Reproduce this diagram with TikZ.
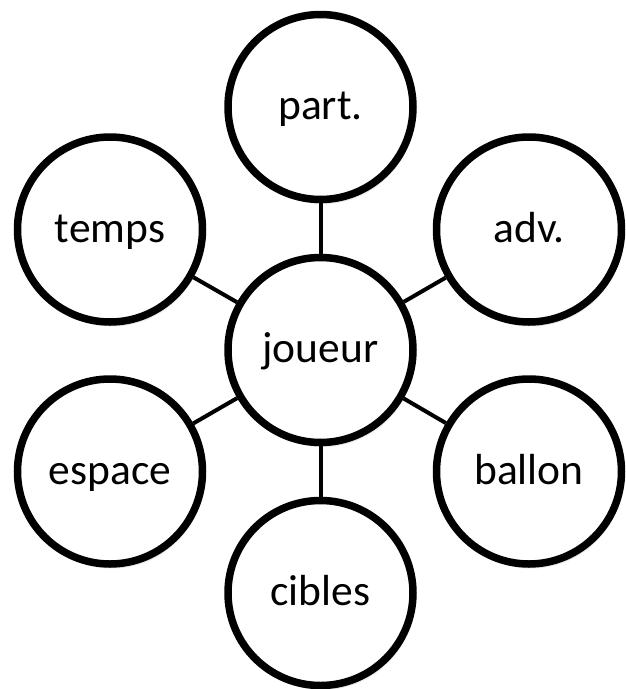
\documentclass[tikz,border=0pt]{standalone}
\usepackage{fontspec}
\setmainfont{Carlito}
\usetikzlibrary{shadows}
\begin{document}
\begin{tikzpicture}[x=1pt,y=-1pt,
  bub/.style={circle, draw=black, line width=7.5pt, fill=white, minimum size=185pt, inner sep=0pt,
    font=\fontsize{43.5}{50}\selectfont, text height=30pt, text depth=5pt,
    drop shadow={opacity=0.18, shadow xshift=2pt, shadow yshift=-4.5pt}},
  link/.style={draw=black, line width=4pt}]
\useasboundingbox (0,0) rectangle (625,689);
\node[bub] (j) at (320.5,350) {joueur};
\node[bub] (p) at (320.5,107) {part.};
\node[bub] (c) at (320.5,593) {cibles};
\node[bub] (t) at (110,229.5) {temps};
\node[bub] (a) at (529,229.5) {adv.};
\node[bub] (e) at (110,471.5) {espace};
\node[bub] (b) at (529,471.5) {ballon};
\draw[link] (j) -- (p);
\draw[link] (j) -- (c);
\draw[link] (j) -- (t);
\draw[link] (j) -- (a);
\draw[link] (j) -- (e);
\draw[link] (j) -- (b);
\end{tikzpicture}
\end{document}
